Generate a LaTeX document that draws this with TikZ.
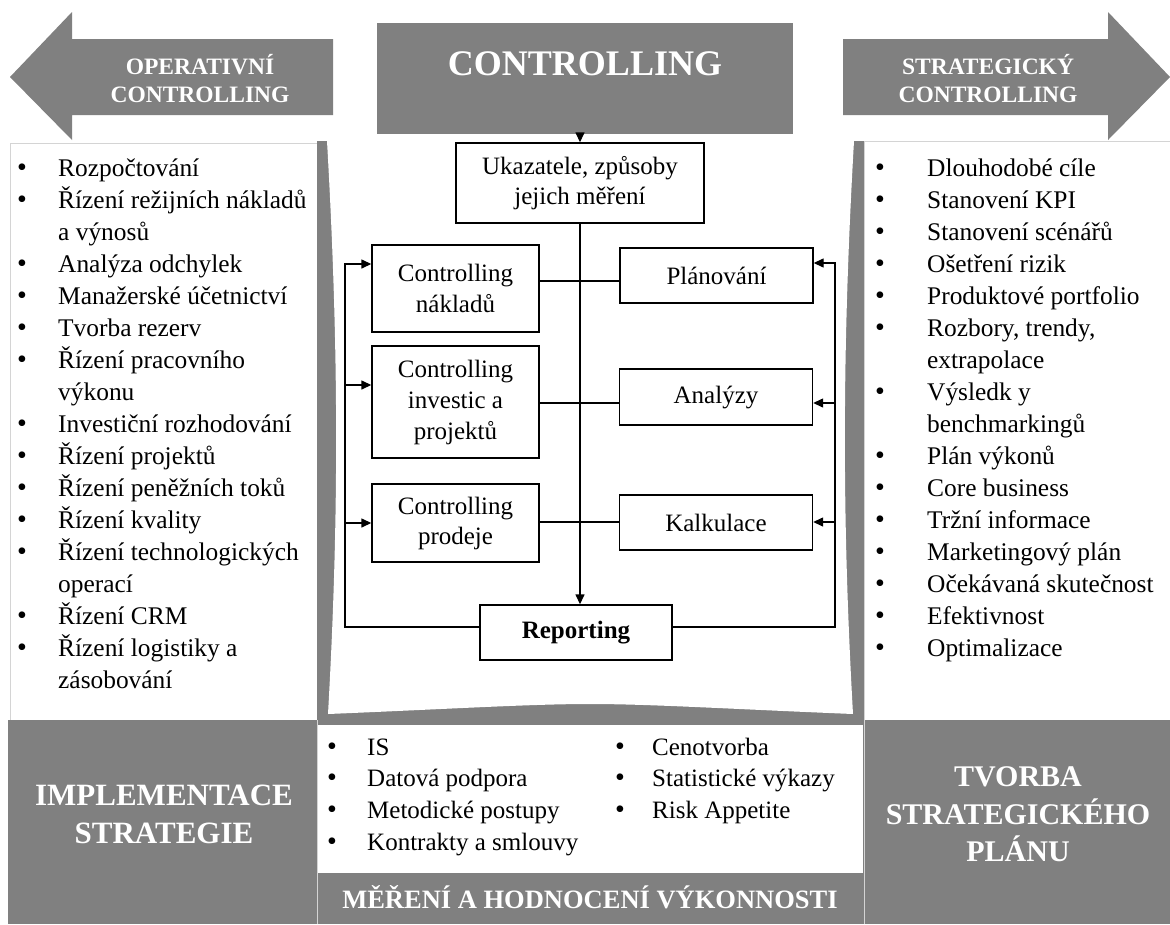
\documentclass[tikz,border=0pt]{standalone}
\usepackage{fontspec}
\setmainfont{Liberation Serif}
\usetikzlibrary{arrows.meta}
\definecolor{panel}{RGB}{128,128,128}
\definecolor{rim}{RGB}{212,212,212}

\begin{document}
\begin{tikzpicture}[x=1pt,y=-1pt,
  head/.style={text=white,inner sep=0pt,align=center,font=\bfseries\fontsize{23.5}{28}\selectfont},
  flowbox/.style={draw=black,line width=1.4pt,fill=white,inner sep=0pt,align=center,font=\fontsize{25}{31}\selectfont},
  link/.style={line width=1.4pt},
  arr/.style={link,-{Triangle[length=10pt,width=9pt]}},
  item/.style={anchor=base west,inner sep=0pt,font=\fontsize{25.4}{30}\selectfont},
  mitem/.style={item,font=\fontsize{25}{30}\selectfont},
  bul/.style={anchor=base,inner sep=0pt,font=\fontsize{28}{30}\selectfont}
]
\useasboundingbox (0,0) rectangle (1170,924);
\fill[white] (0,0) rectangle (1170,924);

% ---- top: two direction arrows and the title box
\fill[panel] (72,12) -- (72,39) -- (333,39) -- (333,115) -- (72,115) -- (72,140) -- (10,77) -- cycle;
\node[head] (op) at (200,79) {OPERATIVNÍ\\CONTROLLING};
\fill[panel] (843,39) -- (1108,39) -- (1108,12) -- (1170,77) -- (1108,140) -- (1108,115) -- (843,115) -- cycle;
\node[head] (st) at (988,79) {STRATEGICKÝ\\CONTROLLING};
\node[fill=panel,minimum width=416pt,minimum height=111pt,inner sep=0pt] (ctrl) at (585,78.5) {};
\node[text=white,inner sep=0pt,font=\bfseries\fontsize{36}{40}\selectfont] (ctrltxt) at (585,64) {CONTROLLING};

% ---- side panels
\draw[rim,fill=white] (10,143) rectangle (317,720);
\draw[rim,fill=white] (864,141) rectangle (1172,720);

% ---- central frame with curved inner edges
\fill[panel] (317,141) rectangle (864,723);
\fill[white] (327,141) .. controls (339,350) and (339,520) .. (328,714)
  .. controls (450,709) and (530,704) .. (590,704)
  .. controls (650,704) and (730,709) .. (853,714)
  .. controls (842,520) and (842,350) .. (854,141) -- cycle;

% ---- bottom band
\fill[panel] (8,720) rectangle (1170,924);
\draw[rim] (317,720) -- (317,924);
\draw[rim] (864,720) -- (864,924);
\fill[white] (318,725) rectangle (863,873);

\node[head,font=\bfseries\fontsize{31}{38}\selectfont] (impl) at (164,814) {IMPLEMENTACE\\STRATEGIE};
\node[head,font=\bfseries\fontsize{30}{37.5}\selectfont] (tvorba) at (1018,814.5) {TVORBA\\STRATEGICKÉHO\\PLÁNU};
\node[head,font=\bfseries\fontsize{26.5}{30}\selectfont] (mereni) at (590,897) {MĚŘENÍ A HODNOCENÍ VÝKONNOSTI};

% ---- flow boxes
\node[flowbox,minimum width=248pt,minimum height=80pt,font=\fontsize{25}{30}\selectfont] (ukaz) at (580,183) {Ukazatele, způsoby\\jejich měření};
\node[flowbox,minimum width=167pt,minimum height=87pt] (cn) at (455.5,288.5) {Controlling\\nákladů};
\node[flowbox,minimum width=167pt,minimum height=112pt] (ci) at (455.5,402) {Controlling\\investic a\\projektů};
\node[flowbox,minimum width=167pt,minimum height=78pt,font=\fontsize{25}{30}\selectfont] (cp) at (455.5,523) {Controlling\\prodeje};
\node[flowbox,minimum width=193pt,minimum height=55pt] (pl) at (716.5,275.5) {Plánování};
\node[flowbox,minimum width=193pt,minimum height=56pt] (an) at (716,397) {Analýzy};
\node[flowbox,minimum width=193pt,minimum height=55pt] (ka) at (716,522.5) {Kalkulace};
\node[flowbox,minimum width=192pt,minimum height=55pt,font=\bfseries\fontsize{25}{30}\selectfont] (rep) at (576,632.5) {Reporting};

% ---- junction points of the feedback loops
\coordinate (jl1) at (345,264);
\coordinate (jl2) at (345,385);
\coordinate (jl3) at (345,523);
\coordinate (jl4) at (345,627);
\coordinate (jr1) at (835,263);
\coordinate (jr2) at (835,403);
\coordinate (jr3) at (835,522);
\coordinate (jr4) at (835,627);
\coordinate (h1) at (0,281);
\coordinate (h2) at (0,403);
\coordinate (h3) at (0,522);

% ---- connectors
\draw[arr] (ukaz.north |- ctrl.south) -- (ukaz.north);
\draw[arr] (ukaz.south) -- (ukaz.south |- rep.north);
\draw[link] (cn.east |- h1) -- (pl.west |- h1);
\draw[link] (ci.east |- h2) -- (an.west |- h2);
\draw[link] (cp.east |- h3) -- (ka.west |- h3);
\draw[arr] (rep.west |- jl4) -- (jl4) -- (jl1) -- (cn.west |- jl1);
\draw[arr] (jl2) -- (ci.west |- jl2);
\draw[arr] (jl3) -- (cp.west |- jl3);
\draw[arr] (rep.east |- jr4) -- (jr4) -- (jr1) -- (pl.east |- jr1);
\draw[arr] (jr2) -- (an.east |- jr2);
\draw[arr] (jr3) -- (ka.east |- jr3);

% ---- operative list
\foreach \k/\b/\t [count=\i] in {0/1/Rozpočtování, 1/1/Řízení režijních nákladů, 2/0/a výnosů,
  3/1/Analýza odchylek, 4/1/Manažerské účetnictví, 5/1/Tvorba rezerv, 6/1/Řízení pracovního,
  7/0/výkonu, 8/1/Investiční rozhodování, 9/1/Řízení projektů, 10/1/Řízení peněžních toků,
  11/1/Řízení kvality, 12/1/Řízení technologických, 13/0/operací, 14/1/Řízení CRM,
  15/1/Řízení logistiky a, 16/0/zásobování}
{
  \node[item] (ol\i) at (58,176+32*\k) {\t};
  \ifnum\b=1 \node[bul] (ob\i) at (22,176+32*\k) {\textbullet}; \fi
}

% ---- strategic list
\foreach \k/\b/\t [count=\i] in {0/1/Dlouhodobé cíle, 1/1/Stanovení KPI, 2/1/Stanovení scénářů,
  3/1/Ošetření rizik, 4/1/Produktové portfolio, {5/1/Rozbory, trendy,}, 6/0/extrapolace,
  7/1/Výsledk y, 8/0/benchmarkingů, 9/1/Plán výkonů, 10/1/Core business, 11/1/Tržní informace,
  12/1/Marketingový plán, 13/1/Očekávaná skutečnost, 14/1/Efektivnost, 15/1/Optimalizace}
{
  \node[item] (sl\i) at (927,176+32*\k) {\t};
  \ifnum\b=1 \node[bul] (sb\i) at (880,176+32*\k) {\textbullet}; \fi
}

% ---- measurement lists
\foreach \t [count=\i from 0] in {IS, Datová podpora, Metodické postupy, Kontrakty a smlouvy}
{
  \node[mitem] (ml\i) at (367,755+31.7*\i) {\t};
  \node[bul] (mb\i) at (332,755+31.7*\i) {\textbullet};
}
\foreach \t [count=\i from 0] in {Cenotvorba, Statistické výkazy, Risk Appetite}
{
  \node[mitem] (mr\i) at (652,755+31.7*\i) {\t};
  \node[bul] (mrb\i) at (620,755+31.7*\i) {\textbullet};
}
\end{tikzpicture}
\end{document}
